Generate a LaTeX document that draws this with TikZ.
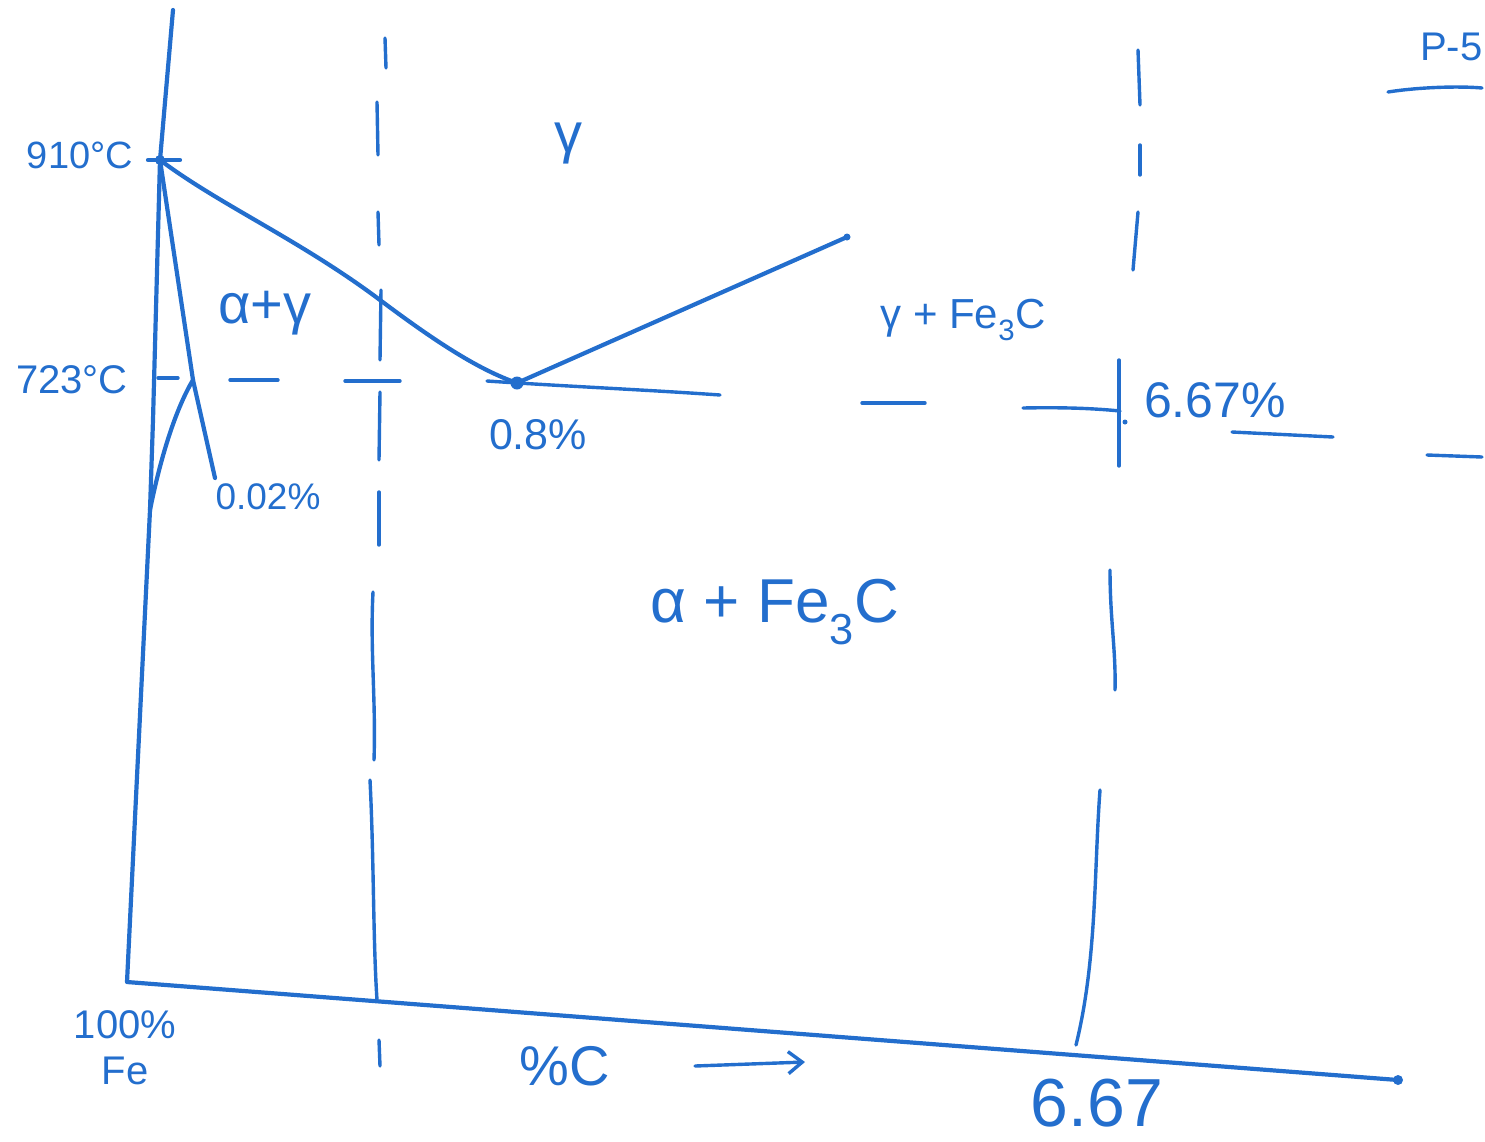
\documentclass[tikz,border=0pt]{standalone}
\usepackage{fontspec}
\setmainfont{Liberation Sans}
\usetikzlibrary{arrows.meta}
\definecolor{ink}{RGB}{35,110,205}
\begin{document}
\begin{tikzpicture}[x=1pt,y=-1pt,
  pen/.style={draw=ink,line width=4.2pt,line cap=round,line join=round},
  thin/.style={draw=ink,line width=3.4pt,line cap=round},
  lbl/.style={text=ink,inner sep=0pt,font=\fontsize{38}{44}\selectfont},
  big/.style={text=ink,inner sep=0pt,font=\fontsize{62}{70}\selectfont}]
\useasboundingbox (0,0) rectangle (1485,1141);
% key points
\coordinate (top) at (173,10);
\coordinate (G) at (160,160);
\coordinate (P) at (193,380);
\coordinate (E) at (517,383);
\coordinate (O) at (127,982);
\coordinate (Xend) at (1398,1080);
\coordinate (Acm) at (847,237);
\coordinate (Q) at (215,478);
\coordinate (Ql) at (150,510);
% axes
\draw[pen] (top) -- (G) -- (153,420) -- (Ql) -- (O) -- (Xend);
\fill[ink] (Xend) circle (5);
% 910 tick
\draw[pen] (148,160) -- (180,160);
\fill[ink] (G) circle (5);
% A3 line and Acm line
\draw[pen] (G) .. controls (220,205) and (300,240) .. (380,300)
  .. controls (440,345) and (480,370) .. (E);
\draw[pen] (E) -- (Acm);
\fill[ink] (E) circle (6.5);
\fill[ink] (Acm) circle (3.5);
% alpha boundaries
\draw[pen] (G) -- (P) -- (Q);
\draw[pen] (Ql) .. controls (160,460) and (175,410) .. (P);
% 723 line
\draw[thin] (158,378) -- (178,378);
\draw[thin] (230,380) -- (278,380);
\draw[thin] (345,381) -- (400,381);
\draw[thin] (487,381) .. controls (560,386) and (650,390) .. (720,395);
\draw[thin] (862,403) -- (925,403);
\draw[thin] (1023,408) .. controls (1070,407) and (1100,409) .. (1120,411);
\fill[ink] (1125,422) circle (2.5);
\draw[thin] (1232,432) -- (1333,437);
\draw[thin] (1427,455) -- (1482,457);
% P-5 underline
\draw[thin] (1388,92) .. controls (1420,87) and (1460,86) .. (1482,88);
% vertical dashed line near 0.8
\draw[thin] (385,38) -- (386,68);
\draw[thin] (377,102) -- (378,155);
\draw[thin] (378,212) -- (379,245);
\draw[thin] (381,290) -- (380,360);
\draw[thin] (380,392) -- (379,460);
\draw[thin] (379,492) -- (379,545);
\draw[thin] (373,592) .. controls (370,650) and (376,700) .. (374,760);
\draw[thin] (370,780) .. controls (374,860) and (373,940) .. (377,1000);
\draw[thin] (379,1040) -- (380,1066);
% vertical line at 6.67
\draw[thin] (1138,50) -- (1140,105);
\draw[thin] (1140,145) -- (1140,175);
\draw[thin] (1138,212) -- (1133,270);
\draw[thin] (1119,360) -- (1119,466);
\draw[thin] (1110,570) .. controls (1110,620) and (1116,650) .. (1115,690);
\draw[thin] (1100,790) .. controls (1094,870) and (1097,960) .. (1076,1045);
% x-axis arrow
\draw[thin,-{Straight Barb[length=14pt,width=22pt]}] (695,1066) -- (805,1062);
% labels
\node[lbl] (t910) at (80,155) {910°C};
\node[lbl,font=\fontsize{40}{46}\selectfont] (t723) at (72,380) {723°C};
\node[lbl,font=\fontsize{56}{62}\selectfont] (tag) at (265,313) {α+γ};
\node[lbl,font=\fontsize{56}{62}\selectfont] (tg) at (568,143) {γ};
\node[lbl,font=\fontsize{42}{48}\selectfont] (tgf) at (963,320) {γ + Fe\textsubscript{3}C};
\node[lbl,font=\fontsize{43}{48}\selectfont] (t08) at (538,435) {0.8\%};
\node[lbl,font=\fontsize{37}{42}\selectfont] (t002) at (268,497) {0.02\%};
\node[lbl,font=\fontsize{50}{56}\selectfont] (t667p) at (1215,400) {6.67\%};
\node[big] (taf) at (775,612) {α + Fe\textsubscript{3}C};
\node[lbl,align=center,font=\fontsize{40}{46}\selectfont] (tfe) at (125,1048) {100\%\\Fe};
\node[lbl,font=\fontsize{56}{62}\selectfont] (tpc) at (565,1066) {\%C};
\node[lbl,font=\fontsize{68}{74}\selectfont] (t667) at (1097,1103) {6.67};
\node[lbl,font=\fontsize{40}{46}\selectfont,anchor=west] (tp5) at (1420,47) {P-5};
\end{tikzpicture}
\end{document}
